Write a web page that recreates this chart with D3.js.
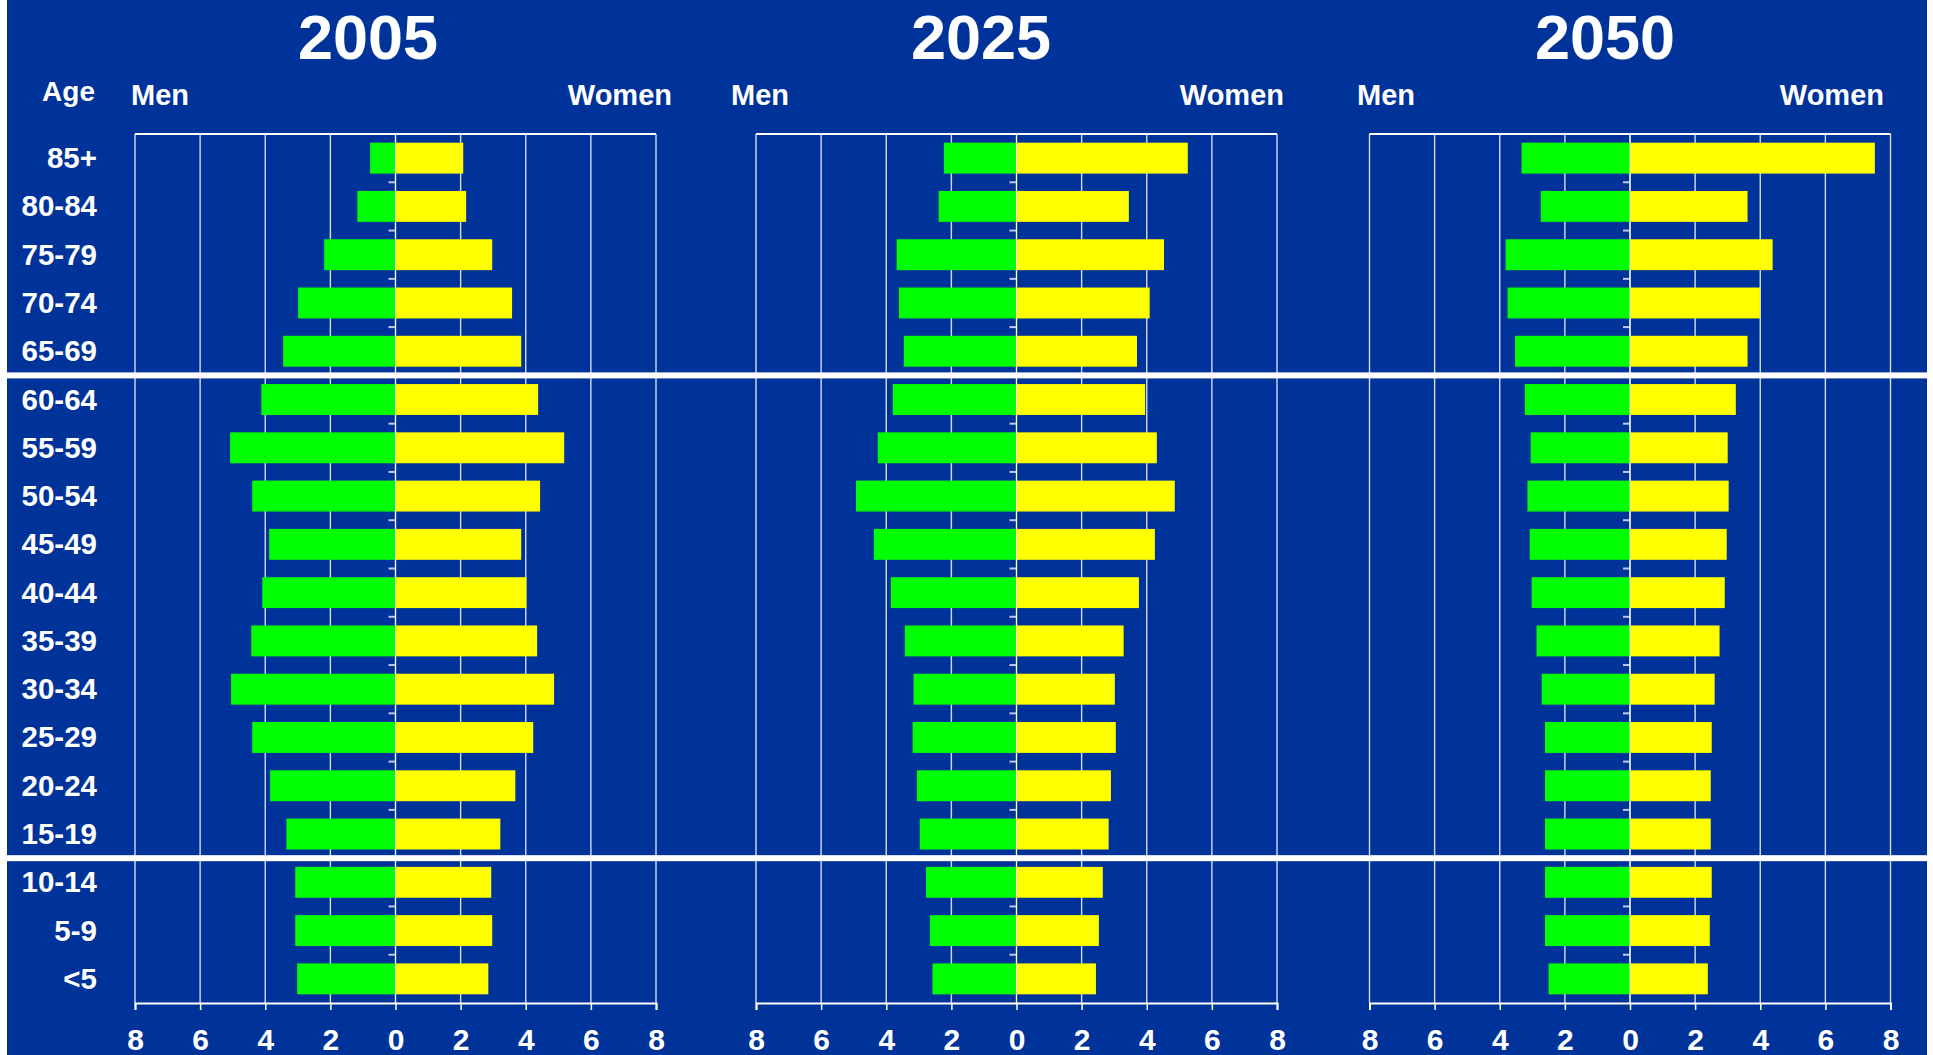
<!DOCTYPE html>
<html>
<head>
<meta charset="utf-8">
<script src="https://cdn.jsdelivr.net/npm/d3@7"></script>
<style>
  body { margin: 0; background: #fff; }
  text { font-family: "Liberation Sans", Arial, sans-serif; font-weight: bold; fill: #fff; }
</style>
</head>
<body>
<div id="chart"></div>
<script>
var ages = ["85+", "80-84", "75-79", "70-74", "65-69", "60-64", "55-59", "50-54", "45-49",
            "40-44", "35-39", "30-34", "25-29", "20-24", "15-19", "10-14", "5-9", "<5"]
var years = ["2005", "2025", "2050"]

var men2005   = [0.78, 1.17, 2.19, 2.99, 3.45, 4.12, 5.08, 4.40, 3.88, 4.09, 4.43, 5.05, 4.40, 3.85, 3.35, 3.08, 3.08, 3.02]
var women2005 = [2.08, 2.17, 2.97, 3.58, 3.86, 4.38, 5.18, 4.44, 3.86, 4.02, 4.35, 4.87, 4.23, 3.68, 3.22, 2.94, 2.97, 2.85]
var men2025   = [2.23, 2.39, 3.68, 3.61, 3.46, 3.80, 4.26, 4.93, 4.38, 3.86, 3.43, 3.16, 3.19, 3.06, 2.97, 2.78, 2.66, 2.58]
var women2025 = [5.26, 3.45, 4.53, 4.09, 3.70, 3.95, 4.31, 4.86, 4.25, 3.76, 3.29, 3.02, 3.05, 2.90, 2.83, 2.65, 2.53, 2.44]
var men2050   = [3.33, 2.74, 3.82, 3.76, 3.53, 3.23, 3.05, 3.15, 3.08, 3.02, 2.87, 2.71, 2.61, 2.61, 2.61, 2.61, 2.61, 2.50]
var women2050 = [7.52, 3.61, 4.38, 3.99, 3.61, 3.25, 3.00, 3.03, 2.97, 2.91, 2.75, 2.60, 2.51, 2.48, 2.48, 2.51, 2.45, 2.39]

var xTicks = [-8, -6, -4, -2, 0, 2, 4, 6, 8]
// age groups after which a white separator is drawn
var breaksAfter = ["65-69", "15-19"]

var menData = [men2005, men2025, men2050]
var womenData = [women2005, women2025, women2050]

var W = 1933, H = 1055
var plotTop = 134, plotBottom = 1003
var panelLeft = [135, 756, 1369.5], panelWidth = 521
var titleX = [368, 981, 1605], menX = [131, 731, 1357], womenX = [672, 1284, 1884]

var svg = d3.select("#chart")
  .append("svg")
    .attr("width", W)
    .attr("height", H)

svg.append("rect")
  .attr("x", 7).attr("y", 0)
  .attr("width", 1920).attr("height", H)
  .attr("fill", "#003399")

var y = d3.scaleBand()
  .domain(ages)
  .range([plotTop, plotBottom])
  .paddingInner(0.36)
  .paddingOuter(0.18)

// age labels
svg.append("text")
  .attr("x", 95).attr("y", 101)
  .attr("text-anchor", "end")
  .style("font-size", "28px")
  .text("Age")

svg.selectAll("ageLabels")
  .data(ages)
  .enter()
  .append("text")
    .attr("x", 97)
    .attr("y", function(d) { return y(d) + y.bandwidth() / 2 + 10 })
    .attr("text-anchor", "end")
    .style("font-size", "29.5px")
    .text(function(d) { return d })

years.forEach(function(year, i) {
  var x = d3.scaleLinear()
    .domain([-8, 8])
    .range([panelLeft[i], panelLeft[i] + panelWidth])

  var g = svg.append("g")

  g.append("text")
    .attr("x", titleX[i]).attr("y", 59)
    .attr("text-anchor", "middle")
    .style("font-size", "63px")
    .text(year)
  g.append("text")
    .attr("x", menX[i]).attr("y", 105)
    .style("font-size", "29px")
    .text("Men")
  g.append("text")
    .attr("x", womenX[i]).attr("y", 105)
    .attr("text-anchor", "end")
    .style("font-size", "29px")
    .text("Women")

  // vertical grid
  g.selectAll("grid")
    .data(xTicks)
    .enter()
    .append("line")
      .attr("x1", function(d) { return x(d) })
      .attr("x2", function(d) { return x(d) })
      .attr("y1", plotTop)
      .attr("y2", plotBottom)
      .attr("stroke", "#d4dcf0")
      .attr("stroke-width", 1.4)

  g.append("line")
    .attr("x1", x(-8)).attr("x2", x(8))
    .attr("y1", plotTop).attr("y2", plotTop)
    .attr("stroke", "#ffffff")
    .attr("stroke-width", 2)

  // bars
  g.selectAll("menBars")
    .data(ages)
    .enter()
    .append("rect")
      .attr("x", function(d, j) { return x(-menData[i][j]) })
      .attr("y", function(d) { return y(d) })
      .attr("width", function(d, j) { return x(0) - x(-menData[i][j]) })
      .attr("height", y.bandwidth())
      .attr("fill", "#00ff00")

  g.selectAll("womenBars")
    .data(ages)
    .enter()
    .append("rect")
      .attr("x", x(0))
      .attr("y", function(d) { return y(d) })
      .attr("width", function(d, j) { return x(womenData[i][j]) - x(0) })
      .attr("height", y.bandwidth())
      .attr("fill", "#ffff00")

  // centre axis with small ticks between the age groups
  g.selectAll("centerTicks")
    .data(ages.slice(1))
    .enter()
    .append("line")
      .attr("x1", x(0) - 7).attr("x2", x(0))
      .attr("y1", function(d) { return y(d) - y.step() * y.paddingInner() / 2 })
      .attr("y2", function(d) { return y(d) - y.step() * y.paddingInner() / 2 })
      .attr("stroke", "#c0cae6")
      .attr("stroke-width", 2)

  g.append("line")
    .attr("x1", x(0)).attr("x2", x(0))
    .attr("y1", plotTop).attr("y2", plotBottom)
    .attr("stroke", "#ffffff")
    .attr("stroke-width", 1)

  // bottom axis
  var axis = g.append("g")
    .attr("transform", "translate(0," + plotBottom + ")")
    .call(d3.axisBottom(x).tickValues(xTicks).tickSize(7).tickPadding(12)
      .tickFormat(function(d) { return Math.abs(d) }))
  axis.select(".domain").attr("stroke", "#ffffff").attr("stroke-width", 2)
  axis.selectAll(".tick line").attr("stroke", "#ffffff").attr("stroke-width", 1.5)
  axis.selectAll(".tick text")
    .attr("fill", "#ffffff")
    .attr("dy", null)
    .attr("y", 47)
    .style("font-size", "30px")
    .style("font-family", "'Liberation Sans', Arial, sans-serif")
    .style("font-weight", "bold")
})

// white separators between the age blocks
svg.selectAll("separators")
  .data(breaksAfter)
  .enter()
  .append("rect")
    .attr("x", 7)
    .attr("y", function(d) { return y(d) + y.bandwidth() + y.step() * y.paddingInner() / 2 - 3 })
    .attr("width", W - 7)
    .attr("height", 6)
    .attr("fill", "#ffffff")
</script>
</body>
</html>
